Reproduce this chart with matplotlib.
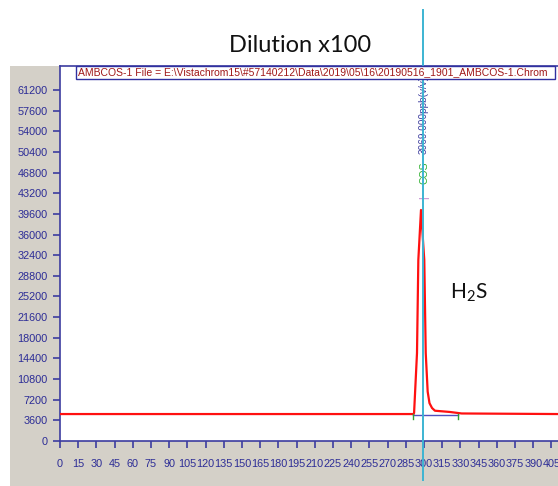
import matplotlib
matplotlib.use("Agg")
import matplotlib.pyplot as plt
from matplotlib.patches import Rectangle

# Chromatogram trace: retention time (s) and detector signal
time_s = [0, 288.0, 291.4, 291.8, 294.2, 295.3, 297.5, 300.2, 301.4, 303.0,
          304.5, 306.6, 309.0, 321.4, 331.0, 410.5]
signal = [4700, 4700, 4700, 4900, 15340, 31560, 40280, 31560, 15340, 8600,
          6600, 5750, 5280, 5060, 4800, 4700]

# Integration limits of the COS / H2S peak and its marker position
peak_start = 291.3
peak_end = 328.0
peak_baseline = 4600
marker_time = 299.2

amount_label = "3969.000ppb(v/v)"
compound_label = "COS"
header_text = ("AMBCOS-1 File = E:\\Vistachrom15\\#57140212\\Data\\2019\\05\\16"
               "\\20190516_1901_AMBCOS-1.Chrom")
title_text = "Dilution x100"
peak_name = r"H$_\mathregular{2}$S"

x_ticks = list(range(0, 406, 15))
y_ticks = list(range(0, 61201, 3600))

W, H = 558, 486
fig = plt.figure(figsize=(W / 100, H / 100), dpi=100)
fig.patch.set_facecolor("white")

axis_blue = "#3c3ca0"
label_blue = "#2c2c96"
panel_grey = "#d4d0c8"

# Grey instrument panel behind the plot
fig.add_artist(Rectangle((10 / W, 0), 1, (H - 66) / H, transform=fig.transFigure,
                         facecolor=panel_grey, edgecolor="none", zorder=0))

left, right, top, bottom = 60, 558, 66, 441
ax = fig.add_axes([left / W, (H - bottom) / H, (right - left) / W, (bottom - top) / H])
ax.set_facecolor("white")
ax.set_xlim(0, 410.4)
ax.set_ylim(0, 65385)

for side in ("left", "bottom", "top"):
    ax.spines[side].set_color(axis_blue)
    ax.spines[side].set_linewidth(1.2)
ax.spines["right"].set_visible(False)

ax.set_xticks(x_ticks)
ax.set_xticklabels([str(v) for v in x_ticks])
ax.set_yticks(y_ticks)
ax.set_yticklabels([str(v) for v in y_ticks])
ax.tick_params(axis="both", colors=axis_blue, labelcolor=label_blue,
               direction="out", length=5, width=1.2, labelsize=7.8)
ax.tick_params(axis="x", pad=8)
ax.tick_params(axis="y", pad=4)
for lab in ax.get_xticklabels() + ax.get_yticklabels():
    lab.set_family("Liberation Sans")

# Signal trace
ax.plot(time_s, signal, color="#ff1010", lw=1.6, zorder=3)

# Integration baseline and peak limit marks
ax.plot([peak_start, peak_end], [peak_baseline, peak_baseline],
        color="#5050c0", lw=1.0, zorder=2)
for t in (peak_start, peak_end):
    ax.plot([t, t], [peak_baseline - 700, peak_baseline + 100],
            color="#30a030", lw=1.0, zorder=4)

# Peak marker line across the whole panel
ax.axvline(marker_time, ymin=-0.104, ymax=1.149, color="#3cb4d2", lw=1.4,
           clip_on=False, zorder=6)

# Peak annotations
ax.text(marker_time + 0.8, 56900, amount_label, rotation=90, ha="center", va="center",
        color="#4040a0", fontsize=7.2, family="Liberation Sans", zorder=5)
ax.text(marker_time + 0.8, 46700, compound_label, rotation=90, ha="center", va="center",
        color="#30b030", fontsize=7.5, family="Liberation Sans", zorder=5)
ax.text(marker_time + 0.6, 42500, "|", rotation=90, ha="center", va="center",
        color="#b060c0", fontsize=7, family="Liberation Sans", zorder=5)

ax.text(321, 25800, peak_name, ha="left", va="center", color="#111111",
        fontsize=15, family="Lato")

# File header box
fig.add_artist(Rectangle((76 / W, (H - 79) / H), (555 - 76) / W, 13 / H,
                         transform=fig.transFigure, facecolor="white",
                         edgecolor="#3030a0", lw=1.0, zorder=5))
fig.text(78 / W, (H - 72.5) / H, header_text, ha="left", va="center",
         color="#a01818", fontsize=7.5, family="Liberation Sans", zorder=6)

fig.text(300 / W, (H - 45) / H, title_text, ha="center", va="center",
         color="#111111", fontsize=17, family="Lato")

fig.savefig("out.png", dpi=100)
